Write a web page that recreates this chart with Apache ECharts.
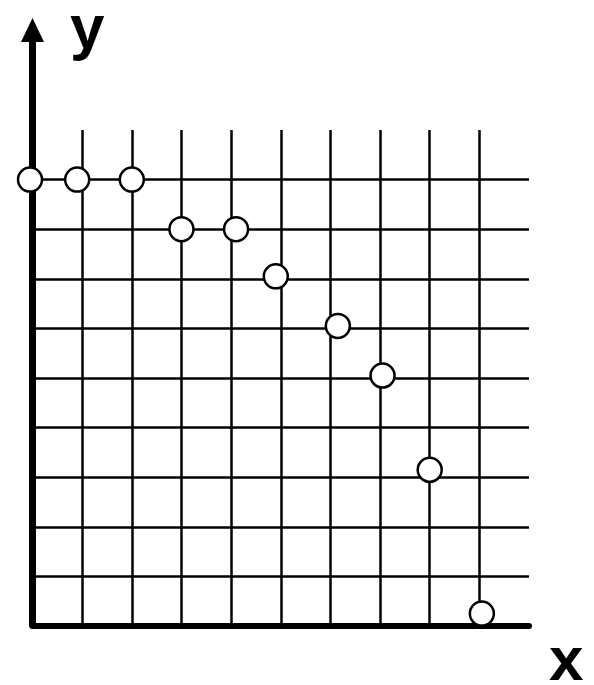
<!DOCTYPE html>
<html>
<head>
<meta charset="utf-8">
<script src="https://cdn.jsdelivr.net/npm/echarts@6/dist/echarts.min.js"></script>
<style>
  html, body { margin: 0; padding: 0; background: #fff; }
  #chart { width: 594px; height: 685px; }
</style>
</head>
<body>
<div id="chart"></div>
<script>
// 数据：圆点坐标
const xValues = [-0.05, 0.9, 2, 3, 4.1, 4.9, 6.15, 7.05, 8, 9.05]
const yValues = [9, 9, 9, 8, 8, 7.05, 6.05, 5.05, 3.15, 0.25]
const axisMax = 10

const points = xValues.map((x, i) => [x, yValues[i]])

const myChart = echarts.init(document.getElementById('chart'))
myChart.setOption({
  animation: false,
  backgroundColor: '#fff',
  grid: [
    { left: 32.5, right: 65, top: 130, bottom: 59 },
    // 只用来画带箭头的 y 轴
    { left: 32.5, right: 65, top: 30, bottom: 60 }
  ],
  xAxis: [
    {
      type: 'value',
      gridIndex: 0,
      min: 0,
      max: axisMax,
      interval: 1,
      axisLine: { show: true, lineStyle: { color: '#000', width: 6 } },
      axisTick: { show: false },
      axisLabel: { show: false },
      splitLine: {
        show: true,
        showMinLine: false,
        showMaxLine: false,
        lineStyle: { color: '#000', width: 2.5 }
      }
    },
    {
      type: 'value',
      gridIndex: 1,
      min: 0,
      max: 1,
      show: false
    }
  ],
  yAxis: [
    {
      type: 'value',
      gridIndex: 0,
      min: 0,
      max: axisMax,
      interval: 1,
      axisLine: { show: false },
      axisTick: { show: false },
      axisLabel: { show: false },
      splitLine: {
        show: true,
        showMinLine: false,
        showMaxLine: false,
        lineStyle: { color: '#000', width: 2.5 }
      }
    },
    {
      type: 'value',
      gridIndex: 1,
      min: 0,
      max: 1,
      axisLine: {
        show: true,
        symbol: ['none', 'triangle'],
        symbolSize: [23, 24],
        lineStyle: { color: '#000', width: 7 }
      },
      axisTick: { show: false },
      axisLabel: { show: false },
      splitLine: { show: false }
    }
  ],
  graphic: [
    {
      type: 'text',
      left: 70,
      top: 0,
      style: { text: 'y', font: 'bold 62px "Liberation Sans", Arial, sans-serif', fill: '#000' }
    },
    {
      type: 'text',
      left: 549,
      top: 632,
      style: { text: 'x', font: 'bold 62px "Liberation Sans", Arial, sans-serif', fill: '#000' }
    }
  ],
  series: [
    {
      type: 'scatter',
      xAxisIndex: 0,
      yAxisIndex: 0,
      data: points,
      clip: false,
      symbol: 'circle',
      symbolSize: 24,
      itemStyle: { color: '#fff', borderColor: '#000', borderWidth: 2.5, opacity: 1 },
      emphasis: { disabled: true },
      z: 10
    }
  ]
})
</script>
</body>
</html>
